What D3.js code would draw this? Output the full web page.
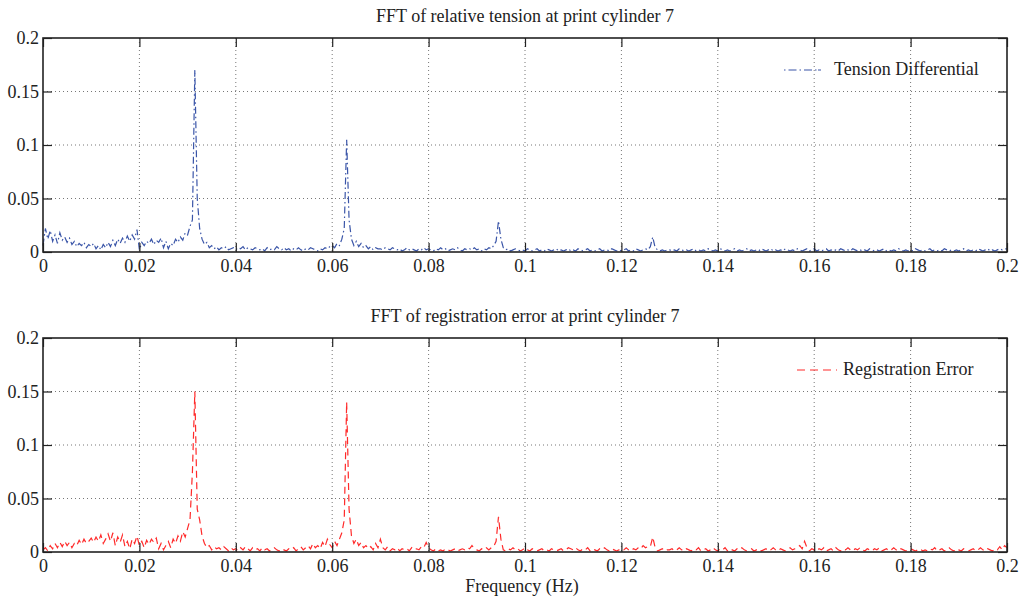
<!DOCTYPE html>
<html>
<head>
<meta charset="utf-8">
<script src="https://cdn.jsdelivr.net/npm/d3@7"></script>
<style>
body { margin: 0; background: #fff; }
text { font-family: "Palatino Linotype", "Book Antiqua", "Liberation Serif", "DejaVu Serif", serif; fill: #222; }
</style>
</head>
<body>
<svg id="chart" width="1021" height="597"></svg>
<script>
// spectrum sampled every 0.0005 Hz from 0 to 0.2 Hz
var freqStep = 0.0005;

var tension = [
	0.006,0.022,0.012,0.020,0.010,0.016,0.008,0.018,0.011,0.014,0.009,0.013,0.007,0.010,0.005,0.008,0.006,0.009,0.004,0.007,
	0.005,0.008,0.003,0.006,0.002,0.007,0.004,0.009,0.005,0.011,0.006,0.012,0.008,0.013,0.009,0.015,0.010,0.016,0.012,0.021,
	0.002,0.009,0.006,0.010,0.008,0.012,0.007,0.011,0.009,0.013,0.004,0.010,0.003,0.008,0.006,0.012,0.009,0.014,0.011,0.018,
	0.016,0.024,0.030,0.170,0.050,0.022,0.012,0.007,0.009,0.004,0.006,0.003,0.005,0.002,0.004,0.003,0.005,0.002,0.003,0.004,
	0.002,0.004,0.003,0.005,0.002,0.004,0.003,0.002,0.004,0.003,0.002,0.003,0.001,0.004,0.002,0.003,0.002,0.005,0.003,0.002,
	0.004,0.002,0.003,0.001,0.003,0.002,0.004,0.002,0.001,0.003,0.002,0.004,0.003,0.002,0.001,0.003,0.002,0.004,0.003,0.005,
	0.006,0.004,0.008,0.006,0.012,0.022,0.105,0.030,0.012,0.006,0.010,0.005,0.008,0.004,0.006,0.003,0.005,0.002,0.004,0.003,
	0.003,0.002,0.004,0.003,0.002,0.004,0.003,0.002,0.003,0.001,0.002,0.004,0.002,0.003,0.002,0.001,0.003,0.002,0.004,0.002,
	0.003,0.002,0.001,0.003,0.002,0.004,0.002,0.003,0.001,0.002,0.003,0.002,0.004,0.002,0.001,0.003,0.002,0.003,0.002,0.004,
	0.002,0.003,0.001,0.003,0.002,0.004,0.003,0.006,0.010,0.029,0.012,0.004,0.002,0.003,0.001,0.002,0.003,0.002,0.001,0.002,
	0.001,0.003,0.002,0.001,0.002,0.003,0.001,0.002,0.001,0.003,0.002,0.001,0.002,0.003,0.001,0.002,0.001,0.002,0.003,0.001,
	0.002,0.001,0.003,0.002,0.001,0.002,0.003,0.001,0.002,0.001,0.002,0.003,0.001,0.002,0.002,0.001,0.003,0.002,0.001,0.002,
	0.001,0.002,0.003,0.001,0.002,0.001,0.003,0.002,0.001,0.002,0.003,0.002,0.005,0.014,0.004,0.002,0.001,0.002,0.001,0.002,
	0.002,0.001,0.002,0.001,0.003,0.002,0.001,0.002,0.001,0.002,0.003,0.001,0.002,0.001,0.002,0.001,0.003,0.002,0.001,0.002,
	0.001,0.003,0.002,0.001,0.002,0.001,0.002,0.003,0.001,0.002,0.001,0.002,0.003,0.001,0.002,0.001,0.002,0.001,0.003,0.002,
	0.001,0.002,0.003,0.001,0.002,0.001,0.002,0.001,0.003,0.002,0.001,0.002,0.001,0.003,0.002,0.001,0.002,0.003,0.001,0.002,
	0.003,0.001,0.002,0.001,0.002,0.003,0.001,0.002,0.001,0.002,0.001,0.003,0.002,0.001,0.002,0.001,0.003,0.002,0.001,0.002,
	0.001,0.002,0.001,0.003,0.002,0.001,0.002,0.001,0.002,0.003,0.001,0.002,0.001,0.002,0.001,0.003,0.002,0.001,0.002,0.001,
	0.002,0.001,0.003,0.002,0.001,0.002,0.001,0.002,0.003,0.001,0.002,0.001,0.002,0.001,0.003,0.002,0.001,0.002,0.001,0.002,
	0.001,0.002,0.003,0.001,0.002,0.001,0.002,0.001,0.003,0.002,0.001,0.002,0.003,0.001,0.002,0.001,0.002,0.003,0.002,0.003,
	0.003
];

var registration = [
	0.002,0.004,0.001,0.006,0.003,0.008,0.004,0.009,0.005,0.010,0.006,0.009,0.004,0.008,0.006,0.011,0.007,0.012,0.008,0.010,
	0.013,0.009,0.014,0.010,0.016,0.008,0.012,0.017,0.010,0.018,0.006,0.014,0.009,0.016,0.005,0.010,0.003,0.012,0.008,0.015,
	0.006,0.010,0.004,0.011,0.007,0.012,0.009,0.013,0.003,0.008,0.002,0.006,0.010,0.004,0.012,0.008,0.015,0.010,0.019,0.014,
	0.022,0.030,0.075,0.150,0.040,0.030,0.015,0.008,0.004,0.006,0.002,0.005,0.003,0.004,0.002,0.005,0.003,0.001,0.004,0.002,
	0.003,0.001,0.004,0.002,0.005,0.003,0.001,0.004,0.002,0.003,0.001,0.004,0.002,0.003,0.001,0.002,0.004,0.002,0.001,0.003,
	0.002,0.001,0.003,0.002,0.004,0.001,0.003,0.005,0.002,0.004,0.006,0.003,0.008,0.004,0.006,0.003,0.009,0.005,0.012,0.007,
	0.004,0.010,0.006,0.012,0.018,0.030,0.140,0.040,0.015,0.008,0.012,0.006,0.009,0.004,0.006,0.003,0.005,0.002,0.008,0.004,
	0.012,0.004,0.002,0.005,0.001,0.003,0.002,0.004,0.001,0.003,0.002,0.003,0.001,0.004,0.002,0.003,0.002,0.005,0.004,0.009,
	0.004,0.002,0.001,0.003,0.001,0.002,0.001,0.003,0.002,0.001,0.002,0.003,0.001,0.002,0.003,0.002,0.004,0.003,0.006,0.003,
	0.002,0.001,0.003,0.002,0.004,0.002,0.004,0.005,0.010,0.033,0.012,0.002,0.001,0.003,0.002,0.004,0.002,0.003,0.001,0.002,
	0.004,0.002,0.001,0.003,0.002,0.001,0.002,0.003,0.001,0.002,0.001,0.003,0.002,0.001,0.002,0.003,0.001,0.002,0.004,0.003,
	0.002,0.004,0.002,0.001,0.003,0.002,0.004,0.001,0.003,0.002,0.001,0.003,0.002,0.004,0.002,0.001,0.003,0.002,0.001,0.002,
	0.003,0.002,0.004,0.002,0.001,0.003,0.002,0.004,0.003,0.006,0.004,0.005,0.005,0.014,0.004,0.001,0.002,0.003,0.001,0.002,
	0.002,0.003,0.001,0.002,0.004,0.002,0.001,0.003,0.002,0.001,0.003,0.002,0.004,0.001,0.002,0.003,0.001,0.002,0.004,0.002,
	0.001,0.003,0.002,0.004,0.001,0.003,0.002,0.001,0.003,0.002,0.004,0.002,0.001,0.002,0.003,0.001,0.002,0.003,0.001,0.002,
	0.003,0.001,0.002,0.004,0.002,0.001,0.003,0.002,0.001,0.002,0.004,0.002,0.003,0.004,0.006,0.003,0.010,0.004,0.001,0.003,
	0.002,0.001,0.003,0.002,0.004,0.001,0.002,0.003,0.001,0.004,0.002,0.001,0.003,0.002,0.004,0.002,0.001,0.003,0.002,0.004,
	0.002,0.001,0.003,0.002,0.001,0.003,0.002,0.004,0.001,0.002,0.003,0.001,0.002,0.004,0.002,0.001,0.003,0.002,0.001,0.002,
	0.003,0.002,0.001,0.002,0.003,0.001,0.002,0.001,0.003,0.002,0.004,0.001,0.002,0.003,0.001,0.002,0.004,0.002,0.001,0.003,
	0.002,0.001,0.003,0.002,0.001,0.002,0.003,0.001,0.002,0.004,0.002,0.001,0.003,0.002,0.001,0.003,0.002,0.005,0.002,0.006,
	0.004
];

var xTicks = [0, 0.02, 0.04, 0.06, 0.08, 0.1, 0.12, 0.14, 0.16, 0.18, 0.2];
var yTicks = [0, 0.05, 0.1, 0.15, 0.2];
var xTickLabels = ["0", "0.02", "0.04", "0.06", "0.08", "0.1", "0.12", "0.14", "0.16", "0.18", "0.2"];
var yTickLabels = ["0", "0.05", "0.1", "0.15", "0.2"];

var panels = [
	{ title: "FFT of relative tension at print cylinder 7", name: "Tension Differential",
	  values: tension, colour: "#3a55a8", dash: "7,3,1.5,3", top: 38,
	  legendX: 784, legendW: 44, legendDash: "1.5,3,8,3,1.5,3,8,3,1.5" },
	{ title: "FFT of registration error at print cylinder 7", name: "Registration Error",
	  values: registration, colour: "#ff2a2a", dash: "7,4.5", top: 338,
	  legendX: 797, legendW: 40, legendDash: "8,5" }
];

var svg = d3.select("#chart");
var left = 43, right = 1007, plotH = 214;
var fontSize = "18px";

var x = d3.scaleLinear().domain([0, 0.2]).range([left, right]);

panels.forEach(function(p) {
	var y = d3.scaleLinear().domain([0, 0.2]).range([p.top + plotH, p.top]);
	var g = svg.append("g");

	// dotted grid
	g.selectAll(".vgrid").data(xTicks.slice(1, -1)).enter().append("line")
		.attr("x1", function(d) { return x(d); }).attr("x2", function(d) { return x(d); })
		.attr("y1", p.top).attr("y2", p.top + plotH)
		.style("stroke", "#777").style("stroke-width", 1).style("stroke-dasharray", "1,3");
	g.selectAll(".hgrid").data(yTicks.slice(1, -1)).enter().append("line")
		.attr("x1", left).attr("x2", right)
		.attr("y1", function(d) { return y(d); }).attr("y2", function(d) { return y(d); })
		.style("stroke", "#777").style("stroke-width", 1).style("stroke-dasharray", "1,3");

	// series
	var line = d3.line()
		.x(function(d, i) { return x(i * freqStep); })
		.y(function(d) { return y(d); });
	g.append("path").datum(p.values)
		.attr("d", line)
		.style("fill", "none").style("stroke", p.colour).style("stroke-width", 1.2)
		.style("stroke-dasharray", p.dash);

	// axes with inward ticks on all sides
	var xb = d3.axisBottom(x).tickValues(xTicks).tickSizeInner(-9).tickSizeOuter(0)
		.tickFormat(function(d, i) { return xTickLabels[i]; }).tickPadding(7);
	var xt = d3.axisTop(x).tickValues(xTicks).tickSizeInner(-9).tickSizeOuter(0).tickFormat("");
	var yl = d3.axisLeft(y).tickValues(yTicks).tickSizeInner(-9).tickSizeOuter(0)
		.tickFormat(function(d, i) { return yTickLabels[i]; }).tickPadding(4);
	var yr = d3.axisRight(y).tickValues(yTicks).tickSizeInner(-9).tickSizeOuter(0).tickFormat("");

	[[xb, "translate(0," + (p.top + plotH) + ")"], [xt, "translate(0," + p.top + ")"],
	 [yl, "translate(" + left + ",0)"], [yr, "translate(" + right + ",0)"]].forEach(function(a) {
		var ax = g.append("g").attr("transform", a[1]).call(a[0]);
		ax.select(".domain").remove();
		ax.selectAll(".tick line").style("stroke", "#222").style("stroke-width", 1.2);
		ax.selectAll("text").style("font-size", fontSize).style("fill", "#222")
			.style("font-family", "'Palatino Linotype', 'Book Antiqua', 'Liberation Serif', serif");
	});

	g.append("rect")
		.attr("x", left).attr("y", p.top).attr("width", right - left).attr("height", plotH)
		.style("fill", "none").style("stroke", "#222").style("stroke-width", 1.6);

	// title
	g.append("text").attr("x", (left + right) / 2).attr("y", p.top - 16)
		.attr("text-anchor", "middle").style("font-size", fontSize).text(p.title);

	// legend
	g.append("line").attr("x1", p.legendX).attr("x2", p.legendX + p.legendW)
		.attr("y1", p.top + 32).attr("y2", p.top + 32)
		.style("stroke", p.colour).style("stroke-width", 1.2).style("stroke-dasharray", p.legendDash);
	g.append("text").attr("x", p.legendX + p.legendW + 6).attr("y", p.top + 37)
		.style("font-size", fontSize).text(p.name);
});

svg.append("text").attr("x", 522).attr("y", 592)
	.attr("text-anchor", "middle").style("font-size", fontSize).text("Frequency (Hz)");
</script>
</body>
</html>
